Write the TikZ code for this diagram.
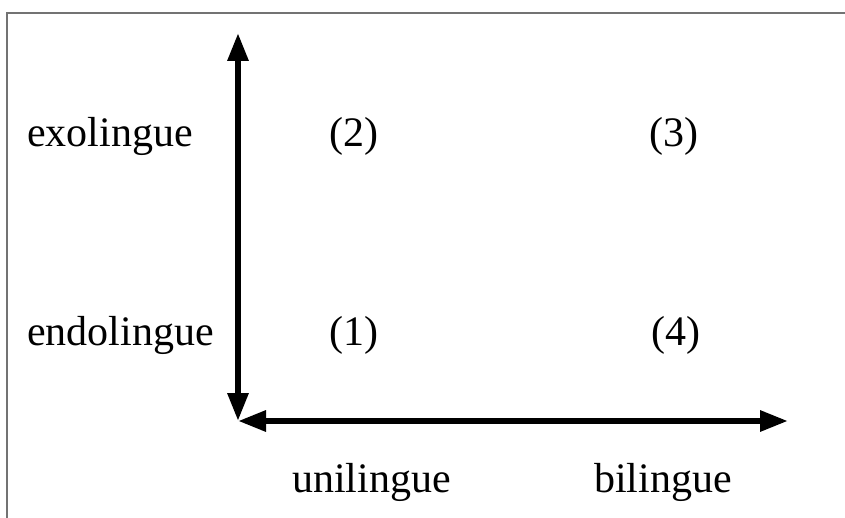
\documentclass[tikz,border=0pt]{standalone}
\usepackage{fontspec}
\setmainfont{Liberation Serif}
\usetikzlibrary{arrows.meta}
\begin{document}
\begin{tikzpicture}[x=1pt,y=-1pt,
  lbl/.style={inner sep=0pt,font=\fontsize{42}{50}\selectfont},
  axis/.style={line width=6pt,{Triangle[length=28pt,width=20pt]}-{Triangle[length=28pt,width=20pt]}},
  frame/.style={draw=black!55,line width=1.5pt}]
\useasboundingbox (0,0) rectangle (845,518);
\draw[frame] (7,518) -- (7,13) -- (845,13);
\coordinate (o) at (238,421);
\coordinate (ytop) at (238,33);
\coordinate (xright) at (788,421);
\draw[axis] (o) -- (ytop);
\draw[axis] (o) -- (xright);
\node[lbl,anchor=base west] (exo) at (27,147) {exolingue};
\node[lbl,anchor=base west] (endo) at (27,345) {endolingue};
\node[lbl,anchor=base] (n2) at (354,147) {(2)};
\node[lbl,anchor=base] (n3) at (674,147) {(3)};
\node[lbl,anchor=base] (n1) at (354,345) {(1)};
\node[lbl,anchor=base] (n4) at (676,345) {(4)};
\node[lbl,anchor=base west] (uni) at (292,492) {unilingue};
\node[lbl,anchor=base west] (bi) at (594,492) {bilingue};
\end{tikzpicture}
\end{document}
